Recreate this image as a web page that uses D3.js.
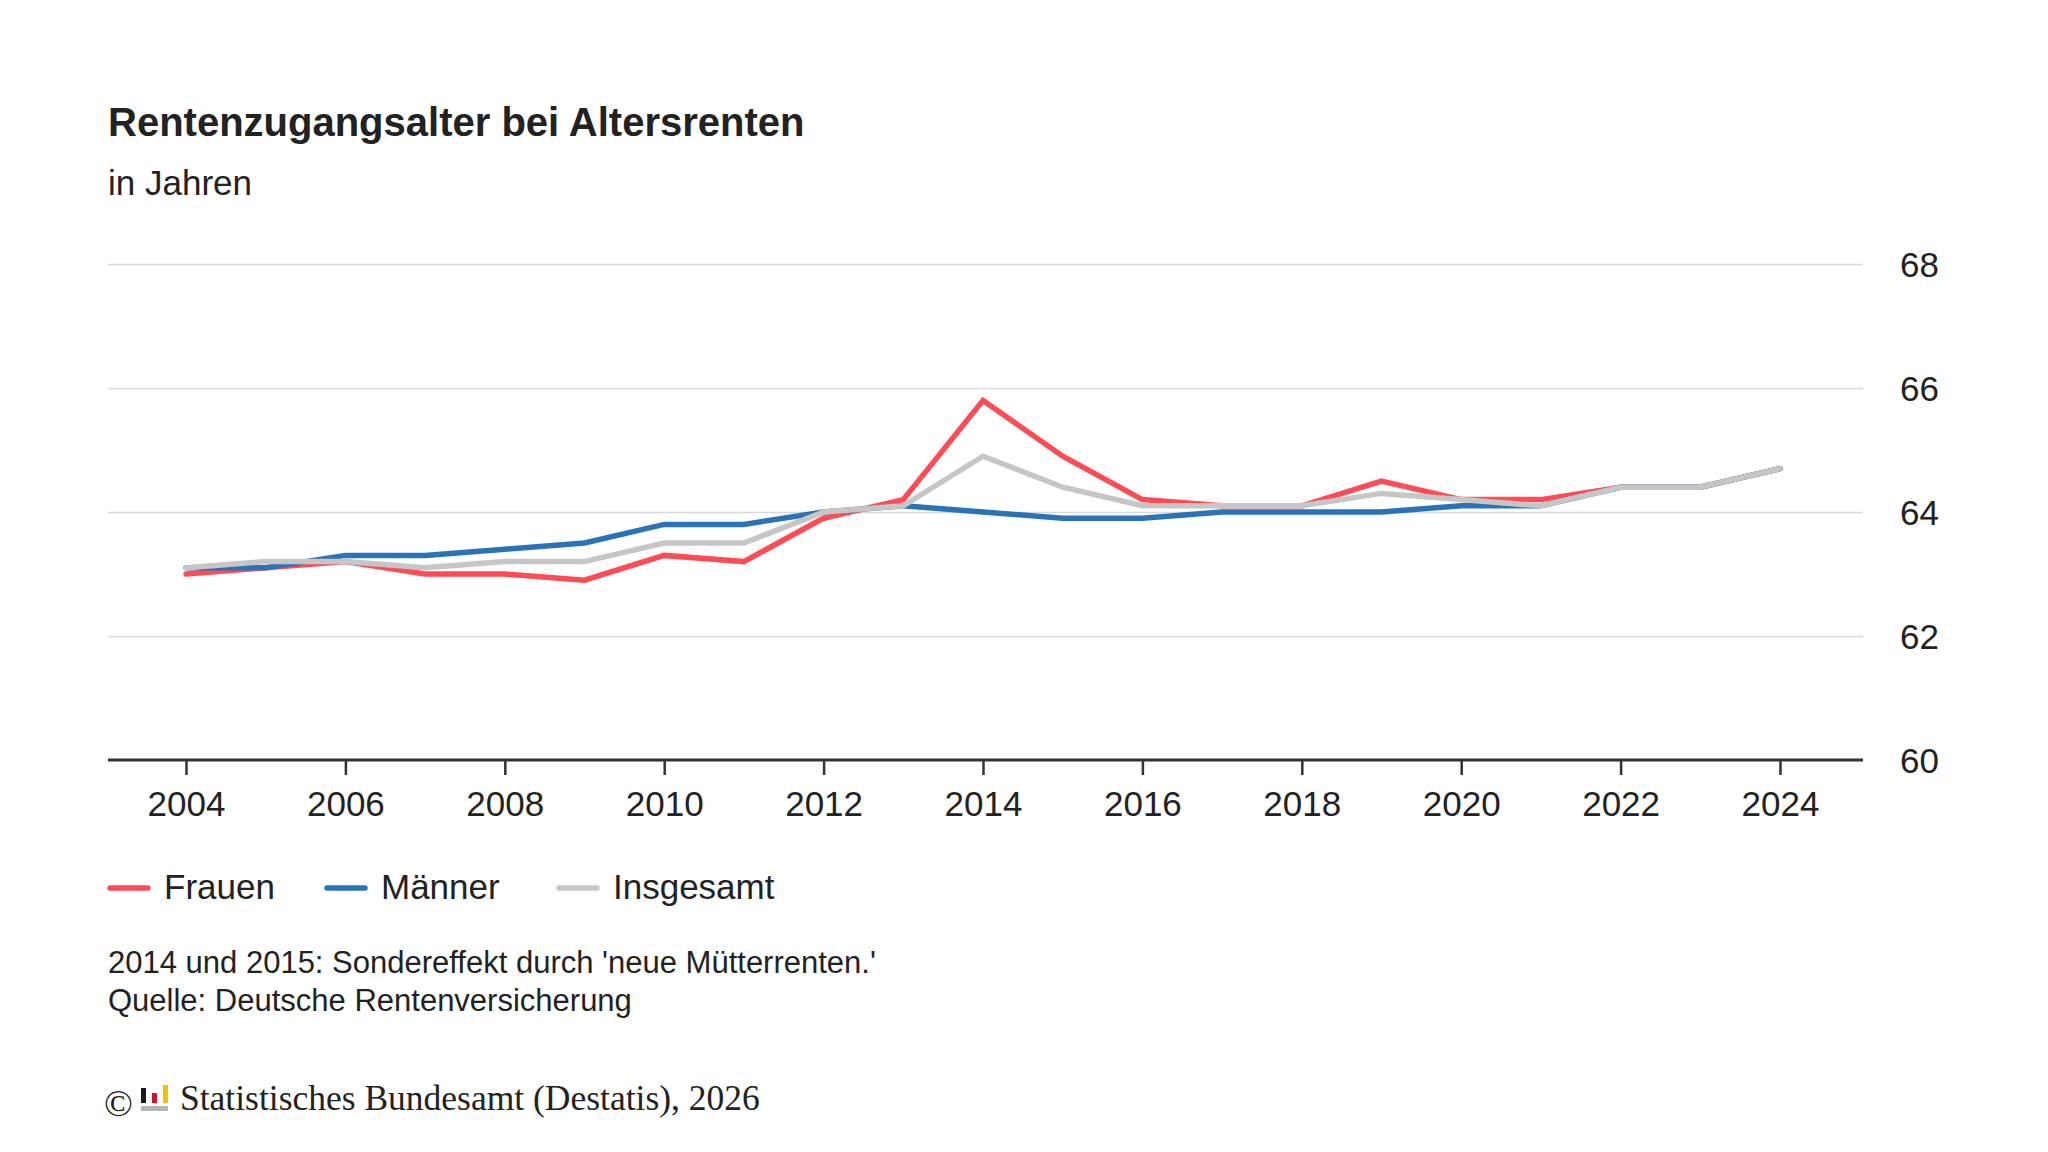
<!DOCTYPE html>
<html>
<head>
<meta charset="utf-8">
<script src="https://cdn.jsdelivr.net/npm/d3@7"></script>
<style>
  body { margin: 0; background: #fff; }
  text { font-family: "Liberation Sans", Arial, sans-serif; fill: #222; }
</style>
</head>
<body>
<div id="chart"></div>
<script>
// data
const years = [2004, 2005, 2006, 2007, 2008, 2009, 2010, 2011, 2012, 2013, 2014,
               2015, 2016, 2017, 2018, 2019, 2020, 2021, 2022, 2023, 2024];
const frauen    = [63.0, 63.1, 63.2, 63.0, 63.0, 62.9, 63.3, 63.2, 63.9, 64.2, 65.8,
                   64.9, 64.2, 64.1, 64.1, 64.5, 64.2, 64.2, 64.4, 64.4, 64.7];
const maenner   = [63.1, 63.1, 63.3, 63.3, 63.4, 63.5, 63.8, 63.8, 64.0, 64.1, 64.0,
                   63.9, 63.9, 64.0, 64.0, 64.0, 64.1, 64.1, 64.4, 64.4, 64.7];
const insgesamt = [63.1, 63.2, 63.2, 63.1, 63.2, 63.2, 63.5, 63.5, 64.0, 64.1, 64.9,
                   64.4, 64.1, 64.1, 64.1, 64.3, 64.2, 64.1, 64.4, 64.4, 64.7];
const seriesNames = ["Frauen", "Männer", "Insgesamt"];
const xTicks = [2004, 2006, 2008, 2010, 2012, 2014, 2016, 2018, 2020, 2022, 2024];
const yTicks = [60, 62, 64, 66, 68];

const width = 2048, height = 1152;
const plot = {left: 108, right: 1863, top: 264, bottom: 760};
const colors = ["#ff4b55", "#2b73b7", "#c6c6c6"];
const legendX = [108, 325, 557];

const svg = d3.select("#chart").append("svg")
    .attr("width", width)
    .attr("height", height);

// title + subtitle
svg.append("text")
    .attr("x", 108).attr("y", 136)
    .attr("font-size", 40).attr("font-weight", "bold")
    .text("Rentenzugangsalter bei Altersrenten");
svg.append("text")
    .attr("x", 108).attr("y", 195)
    .attr("font-size", 35)
    .text("in Jahren");

const x = d3.scaleLinear().domain([2004, 2024]).range([186, 1780]);
const y = d3.scaleLinear().domain([60, 68]).range([plot.bottom, plot.top]);

// grid + right labels
const yAxis = svg.append("g")
    .attr("transform", `translate(${plot.right},0)`)
    .call(d3.axisRight(y)
        .tickValues(yTicks)
        .tickSize(-(plot.right - plot.left))
        .tickPadding(37)
        .tickFormat(d3.format("d")));
yAxis.select(".domain").remove();
yAxis.selectAll(".tick line")
    .attr("stroke", d => d === 60 ? "none" : "#d9d9d9")
    .attr("stroke-width", 1.5);
yAxis.selectAll(".tick text")
    .attr("font-size", 35)
    .attr("fill", "#222")
    .attr("dy", "0.35em")
    .attr("font-family", "Liberation Sans, Arial, sans-serif");

// x axis
const xAxis = svg.append("g")
    .attr("transform", `translate(0,${plot.bottom})`)
    .call(d3.axisBottom(x)
        .tickValues(xTicks)
        .tickSize(15)
        .tickFormat(d3.format("d")));
xAxis.select(".domain").remove();
xAxis.selectAll(".tick line").attr("stroke", "#333").attr("stroke-width", 2.5);
xAxis.selectAll(".tick text")
    .attr("y", 56).attr("dy", 0)
    .attr("font-size", 35)
    .attr("fill", "#222")
    .attr("font-family", "Liberation Sans, Arial, sans-serif");
svg.append("line")
    .attr("x1", plot.left).attr("x2", plot.right)
    .attr("y1", y(60)).attr("y2", y(60))
    .attr("stroke", "#333").attr("stroke-width", 3);

// lines
const series = [frauen, maenner, insgesamt];
const line = d3.line()
    .x((d, i) => x(years[i]))
    .y(d => y(d));

svg.append("g").selectAll("path")
    .data(series)
    .join("path")
    .attr("d", line)
    .attr("fill", "none")
    .attr("stroke", (d, i) => colors[i])
    .attr("stroke-width", 5.5)
    .attr("stroke-linejoin", "miter")
    .attr("stroke-linecap", "round");

// legend
const legend = svg.append("g").attr("transform", "translate(0,899)");
seriesNames.forEach((name, i) => {
    const g = legend.append("g").attr("transform", `translate(${legendX[i]},0)`);
    g.append("line")
        .attr("x1", 2).attr("x2", 40)
        .attr("y1", -11).attr("y2", -11)
        .attr("stroke", colors[i])
        .attr("stroke-width", 5.5)
        .attr("stroke-linecap", "round");
    g.append("text")
        .attr("x", 56).attr("y", 0)
        .attr("font-size", 35)
        .text(name);
});

// notes
svg.append("text")
    .attr("x", 108).attr("y", 973)
    .attr("font-size", 31)
    .text("2014 und 2015: Sondereffekt durch 'neue Mütterrenten.'");
svg.append("text")
    .attr("x", 108).attr("y", 1011)
    .attr("font-size", 31)
    .text("Quelle: Deutsche Rentenversicherung");

// copyright line with small logo
const foot = svg.append("g");
foot.append("text")
    .attr("x", 104).attr("y", 1116)
    .attr("font-size", 38)
    .style("font-family", "'Liberation Serif', 'Times New Roman', serif")
    .text("©");
foot.append("rect").attr("x", 141).attr("y", 1088).attr("width", 5).attr("height", 15).attr("fill", "#1a1a1a");
foot.append("rect").attr("x", 152).attr("y", 1093).attr("width", 5).attr("height", 10).attr("fill", "#d8102c");
foot.append("rect").attr("x", 163).attr("y", 1085).attr("width", 5).attr("height", 18).attr("fill", "#f5c400");
foot.append("rect").attr("x", 141).attr("y", 1106).attr("width", 27).attr("height", 5).attr("fill", "#b5b5b5");
foot.append("text")
    .attr("x", 180).attr("y", 1110)
    .attr("font-size", 35.5)
    .style("font-family", "'Liberation Serif', 'Times New Roman', serif")
    .text("Statistisches Bundesamt (Destatis), 2026");
</script>
</body>
</html>
